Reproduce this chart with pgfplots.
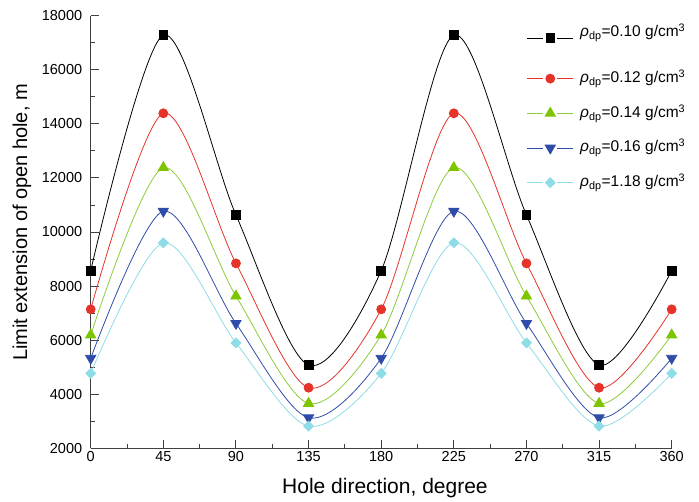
\documentclass[border=0pt]{standalone}
\usepackage{fontspec}
\setmainfont{Liberation Sans}
\usepackage{pgfplots}
\pgfplotsset{compat=1.18}
\definecolor{cblack}{HTML}{000000}
\definecolor{cred}{HTML}{E5332A}
\definecolor{cgreen}{HTML}{7DC500}
\definecolor{cgreenl}{HTML}{8CCB3A}
\definecolor{cblue}{HTML}{2F4DA8}
\definecolor{ccyan}{HTML}{8EDCE6}
\definecolor{axcol}{HTML}{404040}
\begin{document}
\begin{tikzpicture}
\useasboundingbox (-90.7pt,-53.7pt) rectangle (608.3pt,448.3pt);
\begin{axis}[
  scale only axis, width=581pt, height=432.6pt,
  at={(0pt,0pt)}, anchor=south west,
  xmin=0, xmax=360, ymin=2000, ymax=18000,
  axis x line*=bottom, axis y line*=left,
  axis line style={axcol, line width=1pt},
  every tick/.style={axcol, line width=0.9pt},
  tick align=inside,
  xtick={0,45,...,360}, minor x tick num=1,
  ytick={2000,4000,...,18000}, minor y tick num=1,
  major tick length=8pt, minor tick length=4.5pt,
  scaled y ticks=false,
  /pgf/number format/1000 sep={},
  /pgf/number format/assume math mode=true,
  tick label style={font=\fontsize{14.5}{17}\selectfont},
  yticklabel shift=5pt,
  xlabel style={font=\fontsize{21}{24}\selectfont},
  ylabel style={font=\fontsize{20}{24}\selectfont},
  xlabel={Hole direction, degree},
  ylabel={Limit extension of open hole, m},
  xlabel style={at={(axis description cs:0.5065,-0.0918)}, anchor=center},
  ylabel style={at={(axis description cs:-0.1182,0.522)}, anchor=center},
  legend cell align=left,
  legend style={at={(axis description cs:0.7504,0.985)}, anchor=north west,
    draw=none, fill=none, inner sep=0pt, row sep=14.7pt,
    font=\fontsize{15.5}{18}\selectfont,
    nodes={inner sep=2pt, text height=12pt, text depth=4pt},
    /tikz/every odd column/.append style={column sep=4.5pt}},
  legend image code/.code={
    \draw (0pt,0pt) -- (16pt,0pt) (30pt,0pt) -- (46pt,0pt);
    \draw plot coordinates {(23pt,0pt)};
  },
  every axis plot/.append style={smooth, line width=0.8pt},
]
\addplot[cblack, mark=square*, mark size=4.35pt, mark options={fill=cblack}]
  coordinates {(0,8570) (45,17280) (90,10630) (135,5080) (180,8570) (225,17280) (270,10630) (315,5080) (360,8570)};
\addlegendentry[text depth=15.5pt]{\textit{ρ}\textsubscript{dp}=0.10 g/cm\textsuperscript{3}}
\addplot[cred, mark=*, mark size=4.5pt, mark options={fill=cred}]
  coordinates {(0,7140) (45,14390) (90,8840) (135,4240) (180,7140) (225,14390) (270,8840) (315,4240) (360,7140)};
\addlegendentry{\textit{ρ}\textsubscript{dp}=0.12 g/cm\textsuperscript{3}}
\addplot[cgreenl, mark=triangle*, mark size=5.9pt, mark options={fill=cgreen, draw=cgreen}]
  coordinates {(0,6190) (45,12380) (90,7630) (135,3660) (180,6190) (225,12380) (270,7630) (315,3660) (360,6190)};
\addlegendentry{\textit{ρ}\textsubscript{dp}=0.14 g/cm\textsuperscript{3}}
\addplot[cblue, mark=triangle*, mark size=5.9pt, mark options={fill=cblue, rotate=180}]
  coordinates {(0,5330) (45,10770) (90,6620) (135,3130) (180,5330) (225,10770) (270,6620) (315,3130) (360,5330)};
\addlegendentry{\textit{ρ}\textsubscript{dp}=0.16 g/cm\textsuperscript{3}}
\addplot[ccyan, mark=square*, mark size=3.5pt, mark options={fill=ccyan, rotate=45}]
  coordinates {(0,4770) (45,9600) (90,5900) (135,2820) (180,4770) (225,9600) (270,5900) (315,2820) (360,4770)};
\addlegendentry{\textit{ρ}\textsubscript{dp}=1.18 g/cm\textsuperscript{3}}
\end{axis}
\end{tikzpicture}
\end{document}
